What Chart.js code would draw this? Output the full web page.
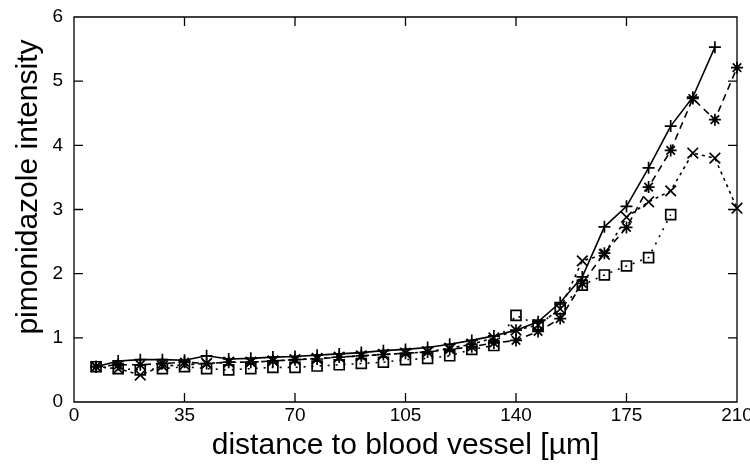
<!DOCTYPE html>
<html>
<head>
<meta charset="utf-8">
<script src="https://cdn.jsdelivr.net/npm/chart.js@4"></script>
<style>
html, body { margin: 0; padding: 0; background: #fff; }
#wrap { width: 750px; height: 464px; }
</style>
</head>
<body>
<div id="wrap"><canvas id="chart"></canvas></div>
<script>
// distance to blood vessel, in um
const distance = [7, 14, 21, 28, 35, 42, 49, 56, 63, 70, 77, 84, 91, 98, 105,
    112, 119, 126, 133, 140, 147, 154, 161, 168, 175, 182, 189, 196, 203, 210];

// series (one per marker style)
const plus_values = [0.55, 0.64, 0.66, 0.66, 0.65, 0.72, 0.67, 0.68, 0.70, 0.71,
    0.73, 0.75, 0.77, 0.80, 0.82, 0.85, 0.90, 0.96, 1.03, 1.12,
    1.25, 1.55, 1.95, 2.73, 3.05, 3.65, 4.30, 4.75, 5.53];
const star_values = [0.55, 0.58, 0.58, 0.60, 0.62, 0.60, 0.62, 0.62, 0.64, 0.66,
    0.67, 0.70, 0.72, 0.74, 0.76, 0.78, 0.82, 0.86, 0.92, 0.96,
    1.10, 1.30, 1.85, 2.32, 2.72, 3.35, 3.92, 4.73, 4.40, 5.21];
const cross_values = [0.55, 0.52, 0.42, 0.56, 0.58, 0.60, 0.62, 0.62, 0.64, 0.66,
    0.68, 0.70, 0.72, 0.74, 0.76, 0.78, 0.84, 0.90, 1.00, 1.12,
    1.20, 1.45, 2.20, 2.30, 2.88, 3.12, 3.29, 3.88, 3.80, 3.02];
const square_values = [0.55, 0.52, 0.50, 0.52, 0.55, 0.52, 0.50, 0.52, 0.54, 0.54,
    0.56, 0.58, 0.60, 0.62, 0.66, 0.68, 0.72, 0.82, 0.88, 1.35,
    1.20, 1.45, 1.82, 1.98, 2.12, 2.25, 2.92];

const x_ticks = [0, 35, 70, 105, 140, 175, 210];
const y_ticks = [0, 1, 2, 3, 4, 5, 6];

const y_title = 'pimonidazole intensity';
const x_title = 'distance to blood vessel [\u00b5m]';

const font_family = "'Liberation Sans', Arial, sans-serif";

function to_points(values){
    return values.map((v, i) => ({x: distance[i], y: v}));
}

function make_dataset(label, values, style, radius, dash){
    return {
        label: label,
        data: to_points(values),
        borderColor: '#000',
        backgroundColor: 'rgba(0,0,0,0)',
        borderWidth: 1.6,
        borderDash: dash,
        pointStyle: style,
        pointRadius: radius,
        pointBorderWidth: 1.7,
        pointBorderColor: '#000',
        pointBackgroundColor: 'rgba(0,0,0,0)',
        tension: 0,
        clip: false,
    };
}

// gnuplot-like frame with inward ticks on all four sides, plus the y label
const inner_ticks = {
    id: 'inner_ticks',
    afterDraw(chart){
        const ctx = chart.ctx;
        const a = chart.chartArea;
        const xs = chart.scales.x;
        const ys = chart.scales.y;
        const len = 9;
        ctx.save();
        ctx.strokeStyle = '#000';
        ctx.lineWidth = 1.3;
        ctx.beginPath();
        ctx.rect(a.left, a.top, a.right - a.left, a.bottom - a.top);
        x_ticks.forEach(t => {
            const px = xs.getPixelForValue(t);
            ctx.moveTo(px, a.bottom); ctx.lineTo(px, a.bottom - len);
            ctx.moveTo(px, a.top); ctx.lineTo(px, a.top + len);
        });
        y_ticks.forEach(t => {
            const py = ys.getPixelForValue(t);
            ctx.moveTo(a.left, py); ctx.lineTo(a.left + len, py);
            ctx.moveTo(a.right, py); ctx.lineTo(a.right - len, py);
        });
        ctx.stroke();

        // y axis title sits a bit above the middle of the frame, as in gnuplot
        ctx.translate(29, ys.getPixelForValue(3.35));
        ctx.rotate(-Math.PI / 2);
        ctx.fillStyle = '#000';
        ctx.font = '30px ' + font_family;
        ctx.textAlign = 'center';
        ctx.textBaseline = 'middle';
        ctx.fillText(y_title, 0, 0);
        ctx.restore();
    }
};

const ctx = document.getElementById('chart');

let chart = new Chart(ctx, {
    type: 'line',
    data: {
        datasets: [
            make_dataset('plus', plus_values, 'cross', 6, []),
            make_dataset('star', star_values, 'star', 6, [7, 5]),
            make_dataset('cross', cross_values, 'crossRot', 7.5, [3, 4]),
            make_dataset('square', square_values, 'rect', 7, [2, 6]),
        ]
    },
    options: {
        responsive: true,
        maintainAspectRatio: false,
        animation: false,
        devicePixelRatio: 1,
        layout: { padding: { top: 17, right: 13, left: 0, bottom: 0 } },
        plugins: {
            legend: { display: false },
            tooltip: { enabled: false },
        },
        scales: {
            x: {
                type: 'linear',
                min: 0,
                max: 210,
                afterFit: (scale) => {
                    scale.height = 62;
                    scale.paddingLeft = 0;
                    scale.paddingRight = 0;
                },
                afterBuildTicks: (scale) => { scale.ticks = x_ticks.map(v => ({value: v})); },
                grid: { display: false, drawTicks: false },
                border: { display: false },
                ticks: {
                    color: '#000',
                    padding: 2,
                    maxRotation: 0,
                    font: { family: font_family, size: 19 },
                },
                title: {
                    display: true,
                    text: x_title,
                    color: '#000',
                    padding: { top: 0, bottom: 0 },
                    font: { family: font_family, size: 30 },
                },
            },
            y: {
                min: 0,
                max: 6,
                afterFit: (scale) => {
                    scale.width = 74;
                    scale.paddingTop = 0;
                    scale.paddingBottom = 0;
                },
                afterBuildTicks: (scale) => { scale.ticks = y_ticks.map(v => ({value: v})); },
                grid: { display: false, drawTicks: false },
                border: { display: false },
                ticks: {
                    color: '#000',
                    padding: 11,
                    font: { family: font_family, size: 19 },
                },
                title: { display: false },
            },
        },
    },
    plugins: [inner_ticks],
});
</script>
</body>
</html>
